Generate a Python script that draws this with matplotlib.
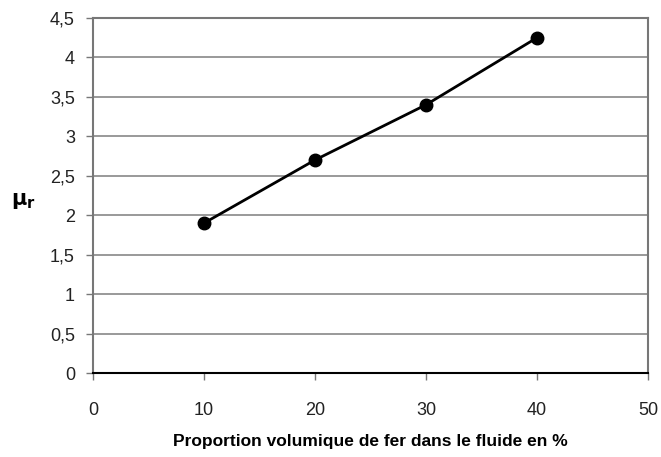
import matplotlib
matplotlib.use("Agg")
import matplotlib.pyplot as plt
from matplotlib.ticker import FuncFormatter, MultipleLocator

proportion = [10, 20, 30, 40]
mu_r = [1.9, 2.7, 3.4, 4.25]
x_label = "Proportion volumique de fer dans le fluide en %"

plt.rcParams['font.family'] = ['Liberation Sans', 'DejaVu Sans']

fig = plt.figure(figsize=(6.61, 4.57), dpi=100)
ax = fig.add_axes([0.1407, 0.1838, 0.8396, 0.7768])

ax.plot(proportion, mu_r, color='black', lw=2, marker='o', ms=9, zorder=3)
ax.set_xlim(0, 50)
ax.set_ylim(0, 4.5)
ax.xaxis.set_major_locator(MultipleLocator(10))
ax.yaxis.set_major_locator(MultipleLocator(0.5))
fmt = FuncFormatter(lambda v, p: ('%g' % v).replace('.', ','))
ax.yaxis.set_major_formatter(fmt)
ax.xaxis.set_major_formatter(fmt)
ax.grid(axis='y', color='#888888', lw=1.2)
ax.set_axisbelow(True)
for s in ['left', 'right', 'top']:
    ax.spines[s].set_color('#777777')
    ax.spines[s].set_linewidth(1.5)
ax.spines['bottom'].set_color('black')
ax.spines['bottom'].set_linewidth(1.5)
ax.tick_params(direction='out', length=5, width=1, colors='#777777', labelcolor='#222222', labelsize=13)
ax.tick_params(axis='y', pad=8)
ax.tick_params(axis='x', pad=16)
ax.set_xlabel(x_label, fontsize=12.5, fontweight='bold', labelpad=11)
ax.set_ylabel(r'$\mathbf{\mu}_\mathbf{r}$', fontsize=15, rotation=0)
ax.yaxis.set_label_coords(-0.125, 0.455)

fig.savefig('out.png', dpi=100)
